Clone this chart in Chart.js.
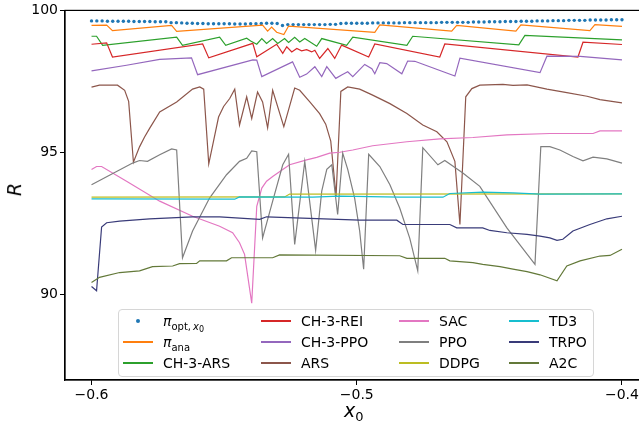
<!DOCTYPE html>
<html>
<head>
<meta charset="utf-8">
<script src="https://cdn.jsdelivr.net/npm/chart.js@4.4.1/dist/chart.umd.min.js"></script>
<style>
  html, body { margin: 0; padding: 0; background: #fff; overflow: hidden; }
  #wrap { position: relative; width: 639px; height: 426px; overflow: hidden; }
  #c { position: absolute; left: 0; top: 0; }
  .txt { position: absolute; font-family: "DejaVu Sans", sans-serif; color: #000; white-space: nowrap; line-height: 1; }
  #legend { position: absolute; left: 118px; top: 309px; width: 476px; height: 68px; box-sizing: border-box;
            border: 1px solid #d6d6d6; border-radius: 4px; background: rgba(255,255,255,0.8); }
  .handle { position: absolute; height: 1.4px; width: 30px; }
  .dot { position: absolute; width: 4px; height: 4px; border-radius: 50%; }
  .sub { font-size: 10px; position: relative; top: 4px; }
  .sub2 { font-size: 8px; position: relative; top: 2px; }
</style>
</head>
<body>
<div id="wrap">
  <canvas id="c" width="660" height="426"></canvas>
  <div id="legend"></div>
  <div class="txt" style="left:344px; top:401px; font-size:19px;"><i>x</i><span style="font-size:13px; position:relative; top:4px;">0</span></div>
  <div class="txt" style="left:8px; top:180px; font-size:19px; transform: rotate(-90deg); transform-origin: center;"><i>R</i></div>
</div>
<script>
// x grid of the optimal policy dots
const gridStart = -0.6, gridStep = 0.002, gridCount = 101;
const piOptY = [
  99.63,99.63,99.63,99.62,99.62,99.62,99.62,99.62,99.61,99.61,
  99.61,99.61,99.60,99.60,99.60,99.57,99.57,99.56,99.55,99.55,
  99.54,99.54,99.53,99.53,99.53,99.53,99.53,99.52,99.52,99.52,
  99.53,99.53,99.54,99.55,99.55,99.54,99.47,99.50,99.50,99.50,
  99.50,99.50,99.50,99.50,99.50,99.51,99.51,99.54,99.55,99.55,
  99.55,99.55,99.55,99.56,99.56,99.56,99.56,99.56,99.56,99.57,
  99.57,99.57,99.57,99.57,99.57,99.57,99.58,99.58,99.58,99.58,
  99.58,99.58,99.59,99.59,99.59,99.60,99.60,99.60,99.61,99.61,
  99.61,99.62,99.62,99.62,99.63,99.63,99.63,99.64,99.64,99.64,
  99.65,99.65,99.65,99.65,99.66,99.66,99.66,99.66,99.67,99.67,
  99.67];

// [x0, R]
const piAna = [[-0.6,99.47],[-0.5943,99.48],[-0.5921,99.29],[-0.5698,99.47],[-0.5679,99.26],[-0.5355,99.48],[-0.5336,99.27],[-0.5321,99.41],[-0.5302,99.23],[-0.5275,99.15],[-0.5257,99.45],[-0.4932,99.23],[-0.4913,99.49],[-0.4642,99.27],[-0.4623,99.47],[-0.44,99.27],[-0.4381,99.49],[-0.4121,99.29],[-0.4102,99.50],[-0.4,99.44]];
const chArs = [[-0.6,99.09],[-0.5981,99.09],[-0.5958,98.77],[-0.5679,99.06],[-0.5657,98.77],[-0.5517,99.06],[-0.5494,98.77],[-0.5415,99.02],[-0.54,98.92],[-0.5377,98.81],[-0.5358,99.01],[-0.534,98.84],[-0.5317,99.01],[-0.5298,98.84],[-0.5272,99.01],[-0.5257,98.87],[-0.5234,99.05],[-0.5215,98.89],[-0.5196,99.01],[-0.5151,98.74],[-0.5132,99.01],[-0.5038,98.77],[-0.5015,99.06],[-0.4811,98.77],[-0.4789,99.09],[-0.4389,98.79],[-0.4366,99.12],[-0.4,98.96]];
const chRei = [[-0.6,98.81],[-0.5943,98.86],[-0.5921,98.36],[-0.5581,98.82],[-0.5558,98.33],[-0.5392,98.84],[-0.5377,98.37],[-0.5302,98.81],[-0.5279,98.49],[-0.5264,98.72],[-0.5245,98.54],[-0.5226,98.66],[-0.5208,98.58],[-0.5189,98.62],[-0.517,98.54],[-0.5158,98.60],[-0.514,98.31],[-0.5109,98.66],[-0.5083,98.31],[-0.5057,98.78],[-0.4955,98.36],[-0.4932,98.82],[-0.4687,98.36],[-0.4668,98.82],[-0.4166,98.36],[-0.4147,98.88],[-0.4,98.80]];
const chPpo = [[-0.6,97.87],[-0.5868,98.07],[-0.5743,98.28],[-0.5623,98.33],[-0.56,97.74],[-0.5392,98.26],[-0.5377,98.25],[-0.5358,97.67],[-0.5242,98.19],[-0.5215,97.65],[-0.5189,97.76],[-0.5158,98.02],[-0.5132,97.67],[-0.5113,98.02],[-0.5079,97.61],[-0.5057,97.73],[-0.5034,97.84],[-0.5015,97.67],[-0.497,98.10],[-0.4943,97.95],[-0.4932,97.77],[-0.4913,98.16],[-0.4887,98.13],[-0.483,97.77],[-0.4808,98.22],[-0.4781,98.21],[-0.463,97.69],[-0.4611,98.32],[-0.4309,97.81],[-0.4283,98.39],[-0.4158,98.38],[-0.4,98.26]];
const ars = [[-0.6,97.30],[-0.597,97.37],[-0.5902,97.37],[-0.5875,97.19],[-0.586,96.80],[-0.5842,94.66],[-0.5819,95.20],[-0.58,95.55],[-0.5781,95.85],[-0.5743,96.43],[-0.5679,96.78],[-0.5619,97.23],[-0.5592,97.31],[-0.5577,97.23],[-0.5558,94.60],[-0.554,95.40],[-0.5521,96.25],[-0.5502,96.62],[-0.5479,96.90],[-0.546,97.23],[-0.5442,95.97],[-0.5415,96.96],[-0.5396,96.20],[-0.5374,97.13],[-0.5355,96.78],[-0.5336,95.87],[-0.5317,97.19],[-0.5275,95.91],[-0.5234,97.27],[-0.5215,97.19],[-0.5177,96.78],[-0.514,96.37],[-0.5117,96.00],[-0.5098,95.40],[-0.5078,93.46],[-0.506,97.15],[-0.5034,97.31],[-0.4989,97.23],[-0.494,97.02],[-0.4875,96.72],[-0.4811,96.37],[-0.4751,95.97],[-0.4698,95.73],[-0.466,95.38],[-0.463,94.69],[-0.4611,92.47],[-0.4589,96.96],[-0.4566,97.25],[-0.4536,97.37],[-0.4449,97.40],[-0.4411,97.36],[-0.4358,97.38],[-0.4283,97.23],[-0.4208,97.11],[-0.4132,96.98],[-0.4083,96.86],[-0.4,96.75]];
const sac = [[-0.6,94.40],[-0.5981,94.51],[-0.5962,94.51],[-0.5868,93.99],[-0.5743,93.29],[-0.5619,92.76],[-0.5517,92.41],[-0.5468,92.18],[-0.5442,91.83],[-0.5423,91.42],[-0.5396,89.70],[-0.5377,93.11],[-0.5358,93.75],[-0.534,93.99],[-0.5317,94.16],[-0.5279,94.40],[-0.5253,94.57],[-0.5189,94.74],[-0.5151,94.83],[-0.5102,94.98],[-0.5064,95.01],[-0.5015,95.09],[-0.494,95.24],[-0.4811,95.38],[-0.4687,95.48],[-0.4562,95.53],[-0.4434,95.62],[-0.4272,95.67],[-0.4109,95.67],[-0.4083,95.76],[-0.4,95.76]];
const ppo = [[-0.6,93.87],[-0.5845,94.63],[-0.5819,94.72],[-0.5789,94.69],[-0.5743,94.92],[-0.5698,95.13],[-0.5679,95.09],[-0.5657,91.30],[-0.5619,92.24],[-0.5555,93.40],[-0.5491,94.22],[-0.5442,94.69],[-0.5415,94.80],[-0.5396,95.06],[-0.5377,95.03],[-0.5355,92.00],[-0.5317,93.29],[-0.5279,94.57],[-0.5257,94.94],[-0.5234,91.77],[-0.5196,94.69],[-0.5155,91.56],[-0.5132,93.64],[-0.5113,94.41],[-0.5094,94.57],[-0.5072,92.82],[-0.5053,94.98],[-0.5034,94.41],[-0.5008,93.40],[-0.4989,92.24],[-0.4974,90.90],[-0.4955,94.94],[-0.4913,94.51],[-0.4875,93.87],[-0.4838,93.05],[-0.48,91.98],[-0.477,90.84],[-0.4751,95.17],[-0.4694,94.57],[-0.4668,94.72],[-0.46,94.28],[-0.4536,93.81],[-0.4434,92.35],[-0.4328,91.07],[-0.4306,95.21],[-0.4272,95.21],[-0.4234,95.09],[-0.4185,94.86],[-0.4147,94.71],[-0.4109,94.84],[-0.4057,94.78],[-0.4,94.63]];
const ddpg = [[-0.6,93.43],[-0.5272,93.44],[-0.5253,93.54],[-0.4,93.55]];
const td3 = [[-0.6,93.37],[-0.546,93.36],[-0.5442,93.44],[-0.5166,93.43],[-0.5064,93.47],[-0.4838,93.43],[-0.4675,93.43],[-0.4649,93.56],[-0.4525,93.61],[-0.4411,93.58],[-0.4309,93.54],[-0.4,93.55]];
const trpo = [[-0.6,90.29],[-0.5981,90.14],[-0.5962,92.38],[-0.5943,92.53],[-0.5894,92.59],[-0.5781,92.67],[-0.5619,92.74],[-0.5517,92.74],[-0.5366,92.65],[-0.534,92.74],[-0.4989,92.62],[-0.4849,92.62],[-0.4826,92.47],[-0.4649,92.47],[-0.4623,92.35],[-0.4525,92.35],[-0.4498,92.26],[-0.4434,92.18],[-0.4358,92.12],[-0.4309,92.06],[-0.4272,92.00],[-0.4245,91.91],[-0.4223,91.95],[-0.4185,92.24],[-0.4121,92.47],[-0.4057,92.67],[-0.4,92.76]];
const a2c = [[-0.6,90.43],[-0.597,90.61],[-0.5894,90.78],[-0.5819,90.84],[-0.577,90.99],[-0.5694,91.01],[-0.5668,91.09],[-0.5604,91.10],[-0.5592,91.19],[-0.5491,91.19],[-0.5472,91.30],[-0.5317,91.30],[-0.5291,91.40],[-0.4838,91.37],[-0.4811,91.28],[-0.4668,91.28],[-0.4649,91.19],[-0.4562,91.13],[-0.4525,91.07],[-0.446,90.99],[-0.4411,90.90],[-0.4358,90.81],[-0.4309,90.70],[-0.4245,90.49],[-0.4208,91.01],[-0.4158,91.19],[-0.4083,91.36],[-0.4045,91.38],[-0.4,91.60]];

const xTicks = [-0.6, -0.5, -0.4];
const yTicks = [90, 95, 100];

const labels = ['π_opt,x0', 'π_ana', 'CH-3-ARS', 'CH-3-REI', 'CH-3-PPO', 'ARS', 'SAC', 'PPO', 'DDPG', 'TD3', 'TRPO', 'A2C'];
const colors = ['#1f77b4', '#ff7f0e', '#2ca02c', '#d62728', '#9467bd', '#8c564b', '#e377c2', '#7f7f7f', '#bcbd22', '#17becf', '#393b79', '#637939'];
const lineSeries = [piAna, chArs, chRei, chPpo, ars, sac, ppo, ddpg, td3, trpo, a2c];

const toXY = arr => arr.map(p => ({x: p[0], y: p[1]}));
const optPoints = piOptY.map((v, i) => ({x: +(gridStart + i * gridStep).toFixed(3), y: v}));

const datasets = [{
  label: labels[0], data: optPoints, showLine: false,
  pointRadius: 1.7, pointBackgroundColor: colors[0], pointBorderWidth: 0, order: 0
}];
lineSeries.forEach((s, i) => {
  datasets.push({
    label: labels[i + 1], data: toXY(s), borderColor: colors[i + 1],
    borderWidth: 1.2, pointRadius: 0, tension: 0, fill: false, order: -(i + 1)
  });
});

function fmt(v) {
  return (v < 0 ? '\u2212' : '') + Math.abs(v).toString();
}

// top/right spines
const frame = {
  id: 'frame',
  afterDatasetsDraw(chart) {
    const a = chart.chartArea, c = chart.ctx;
    c.save();
    c.strokeStyle = '#000';
    c.lineWidth = 1.2;
    c.strokeRect(a.left, a.top, a.right - a.left, a.bottom - a.top);
    c.restore();
  }
};

Chart.defaults.font.family = 'DejaVu Sans';
const tickFont = {family: 'DejaVu Sans', size: 14};

new Chart(document.getElementById('c'), {
  type: 'line',
  data: {datasets},
  options: {
    responsive: false,
    animation: false,
    devicePixelRatio: 1,
    layout: {padding: {top: 8, right: 11.5, left: 0, bottom: 0}},
    plugins: {legend: {display: false}, tooltip: {enabled: false}},
    scales: {
      x: {
        type: 'linear', min: -0.61, max: -0.39,
        afterFit: s => { s.height = 46; },
        afterBuildTicks: s => { s.ticks = xTicks.map(v => ({value: v})); },
        ticks: {callback: v => fmt(v), font: tickFont, color: '#000', padding: 2, maxRotation: 0, autoSkip: false},
        grid: {drawOnChartArea: false, tickLength: 5, color: '#000'},
        border: {color: '#000', width: 1.2}
      },
      y: {
        type: 'linear', min: 87, max: 100,
        afterFit: s => { s.width = 65; },
        afterBuildTicks: s => { s.ticks = yTicks.map(v => ({value: v})); },
        ticks: {callback: v => fmt(v), font: tickFont, color: '#000', padding: 2},
        grid: {drawOnChartArea: false, tickLength: 5, color: '#000'},
        border: {color: '#000', width: 1.2}
      }
    }
  },
  plugins: [frame]
});

// legend, 4 columns filled top to bottom
const legendHtml = {
  'π_opt,x0': '<i>π</i><span class="sub">opt,&#8201;<i>x</i><span class="sub2">0</span></span>',
  'π_ana': '<i>π</i><span class="sub">ana</span>'
};
const colX = [123, 261, 399, 509];
const rowY = [321, 342, 363];
const wrap = document.getElementById('wrap');
datasets.forEach((d, i) => {
  const col = Math.floor(i / 3), row = i % 3;
  const x = colX[col], y = rowY[row];
  const h = document.createElement('div');
  if (d.showLine === false) {
    h.className = 'dot';
    h.style.left = (x + 13) + 'px';
    h.style.top = (y - 2) + 'px';
    h.style.background = colors[i];
  } else {
    h.className = 'handle';
    h.style.left = x + 'px';
    h.style.top = (y - 0.7) + 'px';
    h.style.background = colors[i];
  }
  wrap.appendChild(h);
  const t = document.createElement('div');
  t.className = 'txt';
  t.style.fontSize = '14px';
  t.style.left = (x + 40) + 'px';
  t.style.top = (y - 7) + 'px';
  t.innerHTML = legendHtml[d.label] || d.label;
  wrap.appendChild(t);
});
</script>
</body>
</html>
